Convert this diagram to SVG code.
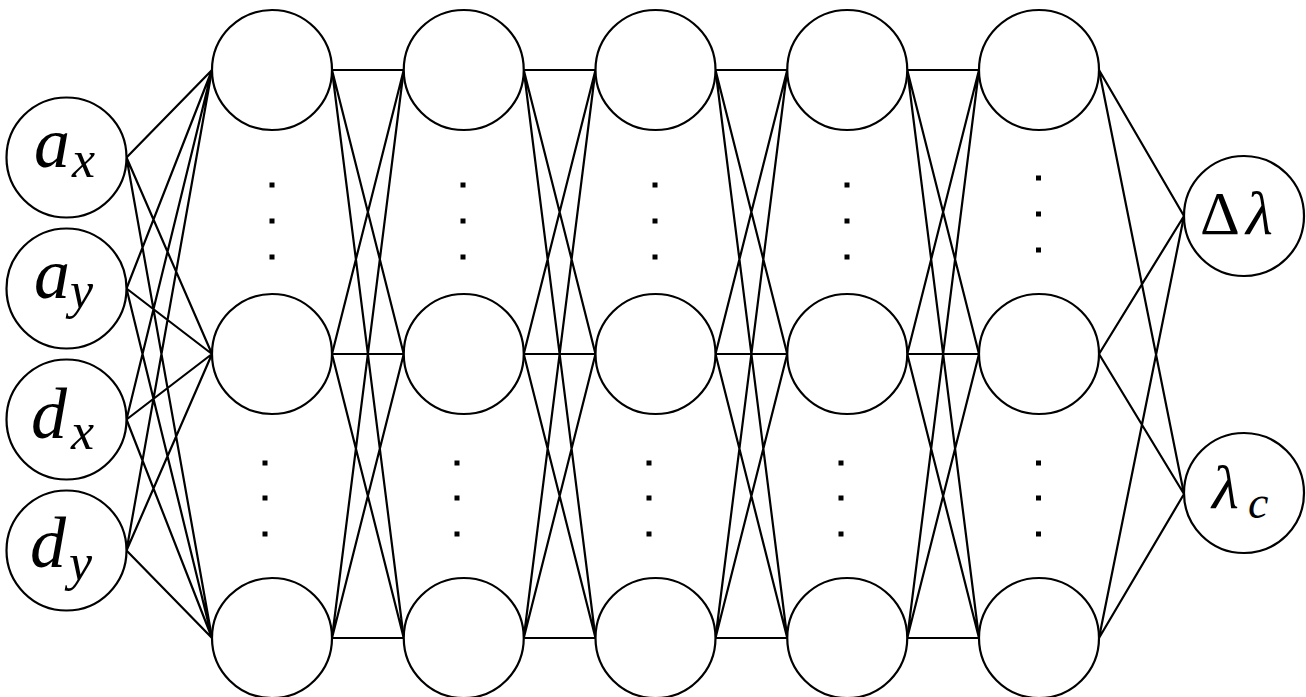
<svg xmlns="http://www.w3.org/2000/svg" width="1306" height="697" viewBox="0 0 1306 697">
<style>
.n{fill:#fff;stroke:#000;stroke-width:2.2}
.e{stroke:#000;stroke-width:2.2;fill:none}
.m{font-family:"Liberation Serif",serif;font-style:italic;fill:#000}
.L{font-size:72px}
.S{font-size:52px}
.O{font-size:62px}
.OS{font-size:46px}
.up{font-style:normal}
.d{fill:#000}
</style>
<g id="connectors" class="e">
<path d="M126.5,157.5L212,70M126.5,157.5L212,354M126.5,157.5L212,638
M126.5,288.5L212,70M126.5,288.5L212,354M126.5,288.5L212,638
M126.5,419.5L212,70M126.5,419.5L212,354M126.5,419.5L212,638
M126.5,550.5L212,70M126.5,550.5L212,354M126.5,550.5L212,638"/>
<path d="M332,70L403.75,70M332,70L403.75,354M332,70L403.75,638
M332,354L403.75,70M332,354L403.75,354M332,354L403.75,638
M332,638L403.75,70M332,638L403.75,354M332,638L403.75,638"/>
<path d="M523.75,70L595.5,70M523.75,70L595.5,354M523.75,70L595.5,638
M523.75,354L595.5,70M523.75,354L595.5,354M523.75,354L595.5,638
M523.75,638L595.5,70M523.75,638L595.5,354M523.75,638L595.5,638"/>
<path d="M715.5,70L787.25,70M715.5,70L787.25,354M715.5,70L787.25,638
M715.5,354L787.25,70M715.5,354L787.25,354M715.5,354L787.25,638
M715.5,638L787.25,70M715.5,638L787.25,354M715.5,638L787.25,638"/>
<path d="M907.25,70L979,70M907.25,70L979,354M907.25,70L979,638
M907.25,354L979,70M907.25,354L979,354M907.25,354L979,638
M907.25,638L979,70M907.25,638L979,354M907.25,638L979,638"/>
<path d="M1099,70L1184,216M1099,70L1184,494
M1099,354L1184,216M1099,354L1184,494
M1099,638L1184,216M1099,638L1184,494"/>
</g>
<g id="in_ax"><circle class="n" cx="66.5" cy="157.5" r="60"/><text class="m L" x="34" y="167">a</text><text class="m S" x="72" y="177">x</text></g>
<g id="in_ay"><circle class="n" cx="66.5" cy="288.5" r="60"/><text class="m L" x="34" y="298">a</text><text class="m S" x="70" y="308">y</text></g>
<g id="in_dx"><circle class="n" cx="66.5" cy="419.5" r="60"/><text class="m L" x="31" y="438">d</text><text class="m S" x="71" y="449">x</text></g>
<g id="in_dy"><circle class="n" cx="66.5" cy="550.5" r="60"/><text class="m L" x="30" y="567">d</text><text class="m S" x="69" y="580">y</text></g>
<g id="h1a"><circle class="n" cx="272" cy="70" r="60"/></g>
<g id="h1b"><circle class="n" cx="272" cy="354" r="60"/></g>
<g id="h1c"><circle class="n" cx="272" cy="638" r="60"/></g>
<g id="h2a"><circle class="n" cx="463.75" cy="70" r="60"/></g>
<g id="h2b"><circle class="n" cx="463.75" cy="354" r="60"/></g>
<g id="h2c"><circle class="n" cx="463.75" cy="638" r="60"/></g>
<g id="h3a"><circle class="n" cx="655.5" cy="70" r="60"/></g>
<g id="h3b"><circle class="n" cx="655.5" cy="354" r="60"/></g>
<g id="h3c"><circle class="n" cx="655.5" cy="638" r="60"/></g>
<g id="h4a"><circle class="n" cx="847.25" cy="70" r="60"/></g>
<g id="h4b"><circle class="n" cx="847.25" cy="354" r="60"/></g>
<g id="h4c"><circle class="n" cx="847.25" cy="638" r="60"/></g>
<g id="h5a"><circle class="n" cx="1039" cy="70" r="60"/></g>
<g id="h5b"><circle class="n" cx="1039" cy="354" r="60"/></g>
<g id="h5c"><circle class="n" cx="1039" cy="638" r="60"/></g>
<g id="out_dl"><circle class="n" cx="1244" cy="216" r="60"/><text class="m O" y="234"><tspan class="up" x="1200">Δ</tspan><tspan x="1246">λ</tspan></text></g>
<g id="out_lc"><circle class="n" cx="1244" cy="493" r="60"/><text class="m O" x="1212" y="508">λ</text><text class="m OS" x="1248" y="518">c</text></g>
<g id="dots" class="d">
<rect x="269.5" y="182.5" width="5" height="5"/><rect x="269.5" y="218.5" width="5" height="5"/><rect x="269.5" y="254.5" width="5" height="5"/>
<rect x="262.5" y="460.5" width="5" height="5"/><rect x="262.5" y="495.5" width="5" height="5"/><rect x="262.5" y="531.5" width="5" height="5"/>
<rect x="460.5" y="182.5" width="5" height="5"/><rect x="460.5" y="218.5" width="5" height="5"/><rect x="460.5" y="254.5" width="5" height="5"/>
<rect x="454.5" y="460.5" width="5" height="5"/><rect x="454.5" y="495.5" width="5" height="5"/><rect x="454.5" y="531.5" width="5" height="5"/>
<rect x="652.5" y="182.5" width="5" height="5"/><rect x="652.5" y="218.5" width="5" height="5"/><rect x="652.5" y="254.5" width="5" height="5"/>
<rect x="646.5" y="460.5" width="5" height="5"/><rect x="646.5" y="495.5" width="5" height="5"/><rect x="646.5" y="531.5" width="5" height="5"/>
<rect x="844.5" y="182.5" width="5" height="5"/><rect x="844.5" y="218.5" width="5" height="5"/><rect x="844.5" y="254.5" width="5" height="5"/>
<rect x="838.5" y="460.5" width="5" height="5"/><rect x="838.5" y="495.5" width="5" height="5"/><rect x="838.5" y="531.5" width="5" height="5"/>
<rect x="1036" y="175.5" width="5" height="5"/><rect x="1036" y="211.5" width="5" height="5"/><rect x="1036" y="247.5" width="5" height="5"/>
<rect x="1036" y="460.5" width="5" height="5"/><rect x="1036" y="495.5" width="5" height="5"/><rect x="1036" y="531.5" width="5" height="5"/>
</g>
</svg>
